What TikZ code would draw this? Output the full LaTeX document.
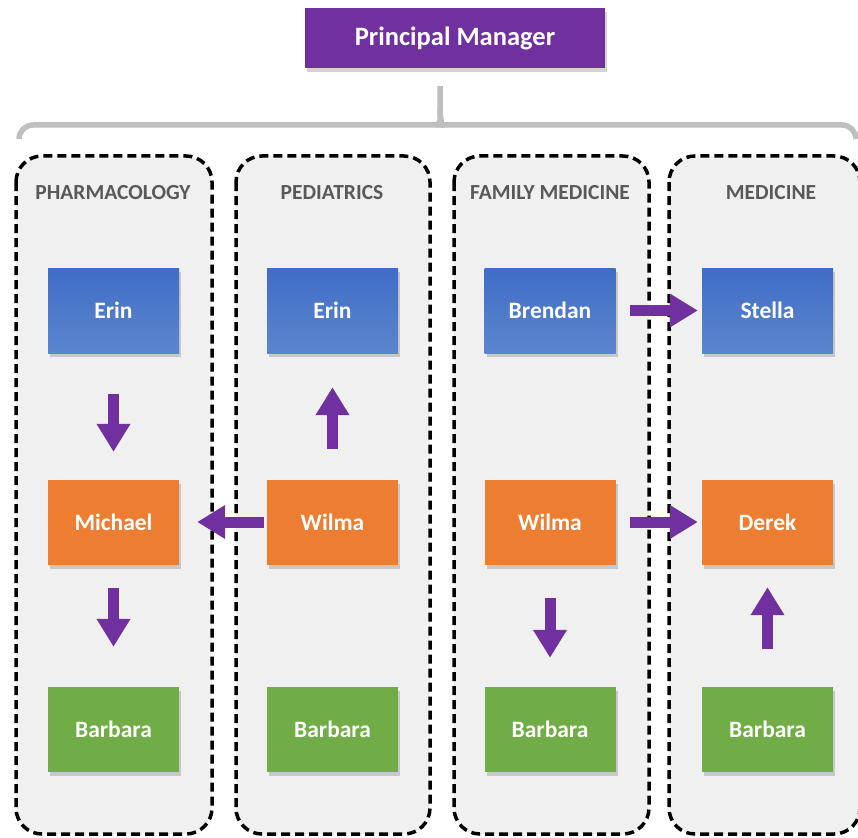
\documentclass[tikz,border=0pt]{standalone}
\usepackage{fontspec}
\setmainfont{Carlito}
\usetikzlibrary{arrows.meta,shadows}
\definecolor{boss}{HTML}{7030A0}
\definecolor{bluetop}{HTML}{3F6DC6}
\definecolor{bluebot}{HTML}{5B86CE}
\definecolor{orangebox}{HTML}{ED7D31}
\definecolor{greenbox}{HTML}{70AD47}
\definecolor{panelgray}{HTML}{F0F0F0}
\definecolor{headgray}{HTML}{595959}
\definecolor{bracegray}{HTML}{BFBFBF}
\tikzset{
  person/.style={minimum width=131pt, minimum height=85pt, inner sep=0pt, text=white,
    font=\fontsize{23.5}{26}\selectfont\bfseries,
    drop shadow={opacity=0.35, shadow xshift=2pt, shadow yshift=-4pt}},
  senior/.style={person, top color=bluetop, bottom color=bluebot},
  middle/.style={person, fill=orangebox},
  junior/.style={person, fill=greenbox},
  dept/.style={draw=black, fill=panelgray, line width=3.5pt, dash pattern=on 9pt off 5pt, rounded corners=26pt},
  depthead/.style={text=headgray, font=\fontsize{21.5}{24}\selectfont\bfseries},
  flow/.style={draw=boss, line width=11pt, -{Triangle[width=32pt,length=28pt]}},
}
\begin{document}
\begin{tikzpicture}[x=1pt,y=-1pt]
  \useasboundingbox (0,0) rectangle (858,837);
  % top manager and brace
  \node[fill=boss, text=white, minimum width=300pt, minimum height=60pt, inner sep=0pt,
        font=\fontsize{26.5}{30}\selectfont\bfseries,
        drop shadow={opacity=0.35, shadow xshift=2pt, shadow yshift=-4pt}] (boss) at (455,38) {Principal Manager};
  \draw[bracegray, line width=5.5pt, rounded corners=14pt] (19,139) -- (19,125) -- (425,125)
        .. controls (437,125) and (440,120) .. (440,108) -- (440,86);
  \draw[bracegray, line width=5.5pt, rounded corners=14pt] (856,139) -- (856,125) -- (455,125)
        .. controls (443,125) and (440,120) .. (440,108);
  % departments
  \draw[dept] (16,156) rectangle (212,834);
  \draw[dept] (236,156) rectangle (430,834);
  \draw[dept] (454,156) rectangle (649,834);
  \draw[dept] (669,156) rectangle (860,834);
  \node[depthead] (pharm) at (113,193) {PHARMACOLOGY};
  \node[depthead] (pedi) at (332,193) {PEDIATRICS};
  \node[depthead] (fam) at (550,193) {FAMILY MEDICINE};
  \node[depthead] (med) at (771,193) {MEDICINE};
  % people
  \node[senior] (erin1) at (113.5,310.5) {Erin};
  \node[middle] (michael) at (113.5,522) {Michael};
  \node[junior] (barbara1) at (113.5,729.5) {Barbara};
  \node[senior] (erin2) at (332.5,310.5) {Erin};
  \node[middle] (wilma2) at (332.5,522) {Wilma};
  \node[junior] (barbara2) at (332.5,729.5) {Barbara};
  \node[senior] (brendan) at (550,310.5) {Brendan};
  \node[middle] (wilma3) at (550,522) {Wilma};
  \node[junior] (barbara3) at (550,729.5) {Barbara};
  \node[senior] (stella) at (767.5,310.5) {Stella};
  \node[middle] (derek) at (767.5,522) {Derek};
  \node[junior] (barbara4) at (767.5,729.5) {Barbara};
  % arrows
  \draw[flow, shorten <=41pt, shorten >=27.5pt] (erin1) -- (michael);
  \draw[flow, shorten <=23.5pt, shorten >=40pt] (michael) -- (barbara1);
  \draw[flow, shorten <=30.5pt, shorten >=34pt] (wilma2) -- (erin2);
  \draw[flow, shorten <=3pt, shorten >=18pt] (wilma2) -- (michael);
  \draw[flow, shorten <=33.5pt, shorten >=29pt] (wilma3) -- (barbara3);
  \draw[flow, shorten <=14.5pt, shorten >=4pt] (brendan) -- (stella);
  \draw[flow, shorten <=14.5pt, shorten >=4pt] (wilma3) -- (derek);
  \draw[flow, shorten <=38pt, shorten >=22.5pt] (barbara4) -- (derek);
\end{tikzpicture}
\end{document}
